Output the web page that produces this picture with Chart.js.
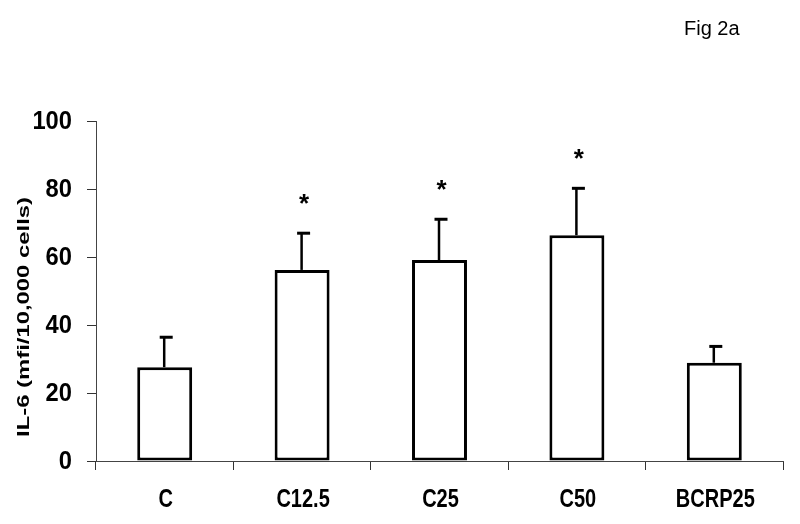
<!DOCTYPE html>
<html>
<head>
<meta charset="utf-8">
<script src="https://cdn.jsdelivr.net/npm/chart.js@4"></script>
<style>
html,body{margin:0;padding:0;background:#fff;}
#wrap{width:800px;height:524px;}
</style>
</head>
<body>
<div id="wrap"><canvas id="c" width="800" height="524"></canvas></div>
<script>
const categories = ["C", "C12.5", "C25", "C50", "BCRP25"];
const means = [27.6, 56.2, 59.1, 66.4, 28.9];
const errors = [8.8, 10.8, 12.0, 13.8, 4.8];
const significance = ["", "*", "*", "*", ""];
const yTicks = [0, 20, 40, 60, 80, 100];
const figLabel = "Fig 2a";
const yTitle = "IL-6 (mfi/10,000 cells)";

const sans = "'Liberation Sans', Arial, sans-serif";

// draws text horizontally condensed by factor sx around (x,y)
function drawCondensed(ctx, text, x, y, sx, align) {
  ctx.save();
  ctx.translate(x, y);
  ctx.scale(sx, 1);
  ctx.textAlign = align;
  ctx.fillText(text, 0, 0);
  ctx.restore();
}

const extras = {
  id: 'extras',
  afterDatasetsDraw(chart) {
    const ctx = chart.ctx;
    const meta = chart.getDatasetMeta(0);
    const y = chart.scales.y;
    ctx.save();
    ctx.strokeStyle = '#000';
    meta.data.forEach((bar, i) => {
      const top = y.getPixelForValue(means[i]);
      const errTop = y.getPixelForValue(means[i] + errors[i]);
      ctx.lineWidth = 2.5;
      ctx.beginPath();
      ctx.moveTo(bar.x - 0.5, top);
      ctx.lineTo(bar.x - 0.5, errTop);
      ctx.stroke();
      ctx.lineWidth = 3;
      ctx.beginPath();
      ctx.moveTo(bar.x - 5, errTop);
      ctx.lineTo(bar.x + 8, errTop);
      ctx.stroke();
      if (significance[i]) {
        ctx.fillStyle = '#000';
        ctx.font = "bold 26px " + sans;
        ctx.textAlign = 'center';
        ctx.textBaseline = 'middle';
        ctx.fillText(significance[i], bar.x + 2, errTop - 28);
      }
    });
    ctx.restore();
  },
  afterDraw(chart) {
    const ctx = chart.ctx;
    const xs = chart.scales.x, ys = chart.scales.y;
    ctx.save();
    ctx.fillStyle = '#000';
    // y tick labels
    ctx.font = "bold 25.5px " + sans;
    ctx.textBaseline = 'middle';
    yTicks.forEach(v => {
      drawCondensed(ctx, String(v), 72, ys.getPixelForValue(v) + 1, 0.93, 'right');
    });
    // x category labels
    ctx.font = "bold 25px " + sans;
    ctx.textBaseline = 'middle';
    categories.forEach((c, i) => {
      drawCondensed(ctx, c, xs.getPixelForValue(i) + 1, 500, 0.8, 'center');
    });
    // figure label
    ctx.font = "20px " + sans;
    ctx.textAlign = 'left';
    ctx.textBaseline = 'alphabetic';
    ctx.fillText(figLabel, 684, 35);
    // y axis title
    ctx.font = "bold 17px " + sans;
    const w = ctx.measureText(yTitle).width;
    ctx.translate(24, 317);
    ctx.rotate(-Math.PI / 2);
    ctx.scale(240 / w, 1);
    ctx.textAlign = 'center';
    ctx.textBaseline = 'middle';
    ctx.fillText(yTitle, 0, 0);
    ctx.restore();
  }
};

new Chart(document.getElementById('c'), {
  type: 'bar',
  data: {
    labels: categories,
    datasets: [{
      data: means,
      backgroundColor: '#ffffff',
      borderColor: '#000000',
      borderWidth: 3,
      borderSkipped: false,
      categoryPercentage: 1.0,
      barPercentage: 0.4
    }]
  },
  options: {
    responsive: false,
    animation: false,
    devicePixelRatio: 1,
    layout: { padding: { top: 121, right: 17, left: 0, bottom: 0 } },
    plugins: { legend: { display: false }, tooltip: { enabled: false }, title: { display: false } },
    scales: {
      x: {
        grid: { display: true, drawOnChartArea: false, drawTicks: true, tickLength: 9, color: '#333', offset: true, lineWidth: 1 },
        border: { display: true, color: '#444', width: 1 },
        ticks: { display: false },
        afterFit(scale) { scale.height = 63; }
      },
      y: {
        min: 0, max: 100,
        afterBuildTicks(scale) { scale.ticks = yTicks.map(v => ({ value: v })); },
        grid: { display: true, drawOnChartArea: false, drawTicks: true, tickLength: 9, color: '#333', lineWidth: 1 },
        border: { display: true, color: '#444', width: 1 },
        ticks: { display: false },
        afterFit(scale) { scale.width = 96; }
      }
    }
  },
  plugins: [extras]
});
</script>
</body>
</html>
